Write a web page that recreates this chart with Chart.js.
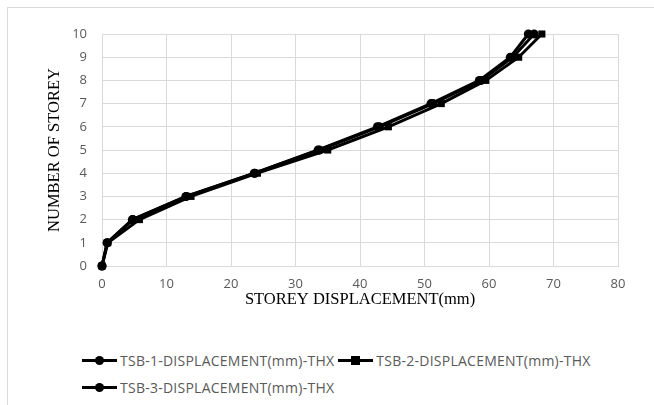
<!DOCTYPE html>
<html lang="en">
<head>
    <meta charset="UTF-8">
    <title>Storey Displacement</title>
    <script src="https://cdn.jsdelivr.net/npm/chart.js"></script>
    <style>
        body { margin: 0; background: #fff; width: 654px; height: 405px; overflow: hidden; position: relative; }
        .frame { position: absolute; left: 7px; top: 7px; width: 700px; height: 450px; border: 1px solid #d9d9d9; }
        #chart { position: absolute; left: 0; top: 0; }
        .legend { position: absolute; left: 82px; top: 351px; width: 540px; display: flex; flex-wrap: wrap; column-gap: 4px; row-gap: 9px;
                  font-family: "Open Sans", sans-serif; font-size: 14px; letter-spacing: 0.25px; color: #595959; }
        .legend-item { display: flex; align-items: center; height: 18px; white-space: nowrap; }
        .legend-key { position: relative; width: 35px; height: 18px; margin-right: 3px; }
        .legend-key .line { position: absolute; left: 0; right: 0; top: 8px; height: 3px; background: #000; }
        .legend-key .mark { position: absolute; left: 13px; top: 5px; width: 9px; height: 9px; background: #000; }
        .legend-key .mark.circle { border-radius: 50%; }
    </style>
</head>
<body>
    <div class="frame"></div>
    <canvas id="chart" width="654" height="320"></canvas>
    <div class="legend" id="legend"></div>

    <script>
        // storey levels 0..10 and displacement (mm) for each model
        const storeys = [0, 1, 2, 3, 4, 5, 6, 7, 8, 9, 10];
        const tsb1 = [0, 0.8, 4.7, 13.0, 23.6, 33.5, 42.7, 51.0, 58.5, 63.3, 66.1];
        const tsb2 = [0, 0.9, 5.8, 13.8, 24.1, 35.0, 44.4, 52.6, 59.5, 64.6, 68.2];
        const tsb3 = [0, 0.8, 4.8, 13.1, 23.7, 33.7, 43.0, 51.3, 58.8, 63.7, 67.0];

        const seriesNames = [
            'TSB-1-DISPLACEMENT(mm)-THX',
            'TSB-2-DISPLACEMENT(mm)-THX',
            'TSB-3-DISPLACEMENT(mm)-THX'
        ];
        const seriesValues = [tsb1, tsb2, tsb3];
        const seriesMarkers = ['circle', 'rect', 'circle'];

        const tickFont = { family: '"Open Sans", sans-serif', size: 13 };
        const titleFont = { family: '"Liberation Serif", "Times New Roman", serif', size: 16.5 };
        const gridColor = '#d9d9d9';

        const datasets = seriesValues.map((vals, i) => ({
            label: seriesNames[i],
            data: vals.map((v, j) => ({ x: v, y: storeys[j] })),
            showLine: true,
            clip: false,
            borderColor: '#000',
            backgroundColor: '#000',
            borderWidth: 3,
            pointStyle: seriesMarkers[i],
            pointRadius: seriesMarkers[i] === 'rect' ? 5 : 4.5,
            pointBorderWidth: 0
        }));

        const ctx = document.getElementById('chart').getContext('2d');
        const chart = new Chart(ctx, {
            type: 'scatter',
            data: { datasets: datasets },
            options: {
                responsive: false,
                animation: false,
                layout: { padding: { left: 0, right: 36, top: 34, bottom: 0 } },
                plugins: {
                    legend: { display: false },
                    tooltip: { enabled: false }
                },
                scales: {
                    x: {
                        type: 'linear',
                        min: 0,
                        max: 80,
                        ticks: { stepSize: 10, color: '#595959', font: tickFont, padding: 10 },
                        grid: { color: gridColor, drawTicks: false },
                        border: { color: gridColor },
                        title: { display: true, text: 'STOREY DISPLACEMENT(mm)', color: '#000', font: titleFont, padding: { top: 0, bottom: 10 } },
                        afterFit: (scale) => { scale.height = 54; }
                    },
                    y: {
                        type: 'linear',
                        min: 0,
                        max: 10,
                        ticks: { stepSize: 1, color: '#595959', font: tickFont, padding: 15 },
                        grid: { color: gridColor, drawTicks: false },
                        border: { color: gridColor },
                        title: { display: true, text: 'NUMBER OF STOREY', color: '#000', font: titleFont, padding: { top: 45, bottom: 0 } },
                        afterFit: (scale) => { scale.width = 102; }
                    }
                }
            }
        });

        // legend laid out like the spreadsheet one: rows wrap and stay left aligned
        const legend = document.getElementById('legend');
        chart.data.datasets.forEach(ds => {
            const item = document.createElement('div');
            item.className = 'legend-item';
            const mark = ds.pointStyle === 'rect' ? 'mark' : 'mark circle';
            item.innerHTML = `<span class="legend-key"><span class="line"></span><span class="${mark}"></span></span><span>${ds.label}</span>`;
            legend.appendChild(item);
        });
    </script>
</body>
</html>
